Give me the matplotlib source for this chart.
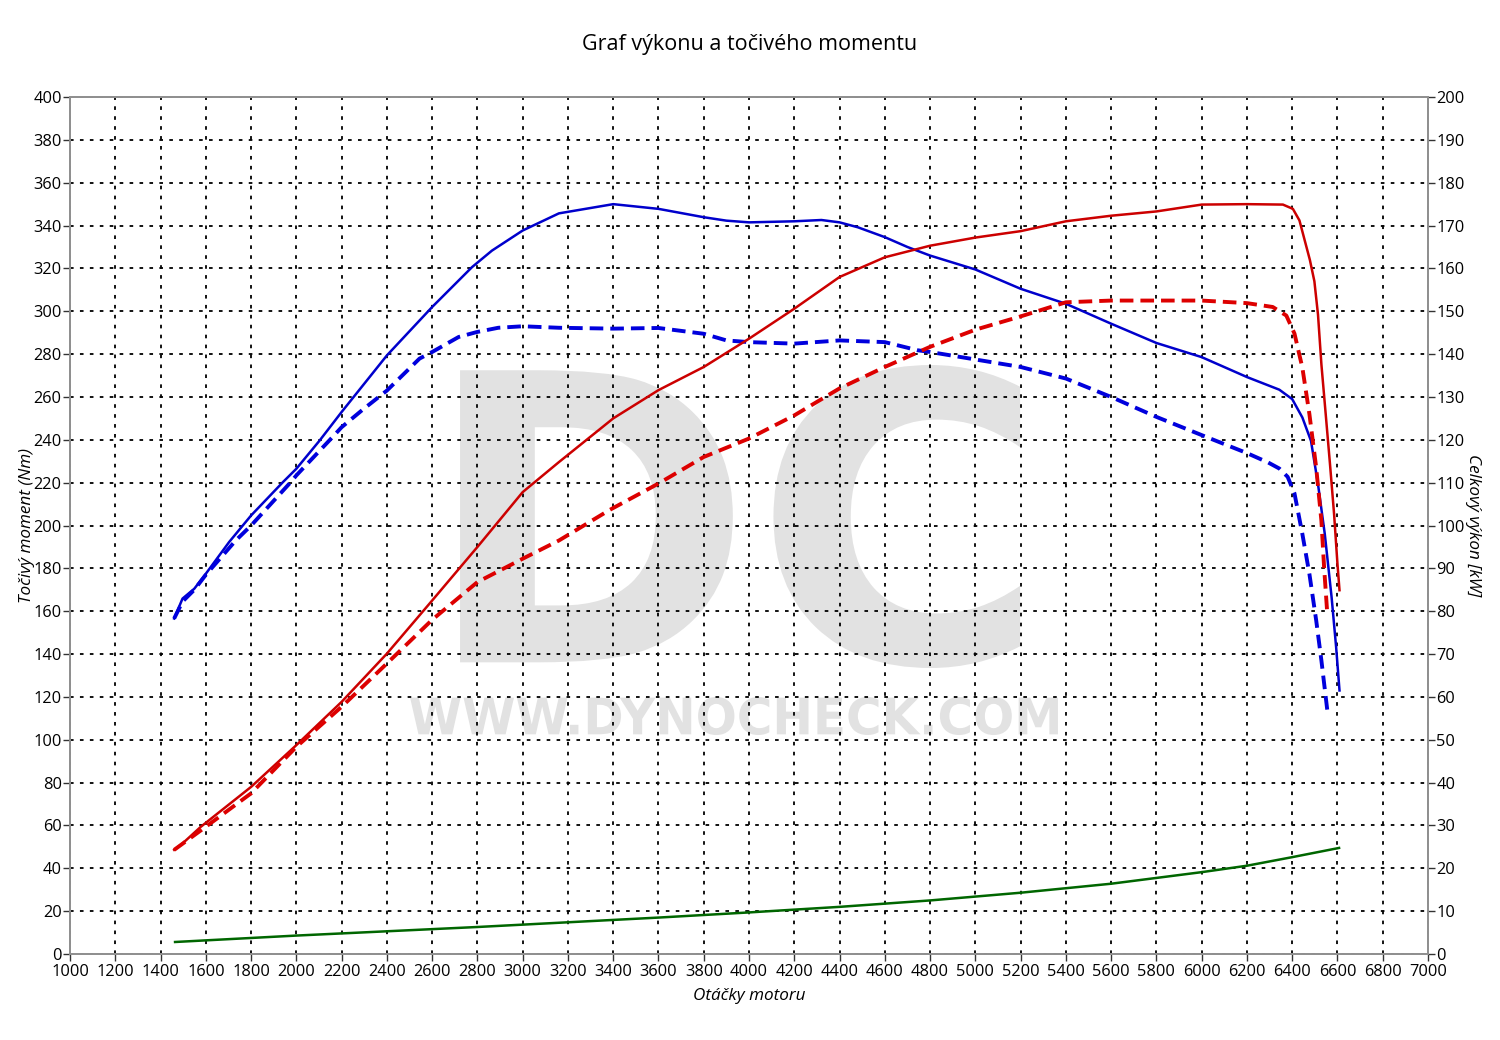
import matplotlib
matplotlib.use("Agg")
import matplotlib.pyplot as plt
from matplotlib.textpath import TextPath
from matplotlib.font_manager import FontProperties
from matplotlib.patches import PathPatch
from matplotlib.transforms import Affine2D, BboxTransformTo, Bbox

plt.rcParams['font.family'] = ['Open Sans', 'DejaVu Sans']

# ---- data ----
rpm_t_tuned = [1460, 1497, 1549, 1600, 1703, 1800, 1941, 2000, 2103, 2200, 2400, 2600, 2776, 2864,
               3000, 3160, 3400, 3600, 3800, 3900, 4000, 4200, 4320, 4400, 4481, 4600, 4700, 4800,
               5000, 5200, 5400, 5600, 5800, 6000, 6200, 6343, 6400, 6445, 6483, 6514, 6544, 6574,
               6594, 6609]
torque_tuned = [156.6, 165.9, 170.5, 177.5, 192.3, 204.7, 220.3, 226.5, 239.7, 253, 279.4, 302, 320.6, 328.3,
                337.7, 345.7, 350, 347.8, 343.9, 342.3, 341.5, 342, 342.6, 341.5, 339.2, 334.6, 330, 326,
                319.5, 310.5, 303.5, 294.2, 285.2, 278.6, 269.3, 263.4, 259, 250.4, 239.5, 219.3, 196, 166.6,
                143.3, 123]

rpm_t_stock = [1460, 1497, 1549, 1600, 1732, 1800, 1973, 2000, 2159, 2200, 2290, 2400, 2544, 2600,
               2717, 2797, 2892, 3000, 3160, 3400, 3600, 3800, 3900, 4000, 4200, 4400, 4600, 4745,
               4800, 5000, 5200, 5400, 5600, 5800, 6000, 6200, 6294, 6343, 6380, 6410, 6445, 6476,
               6506, 6529, 6555]
torque_stock = [156.6, 164.5, 170, 177, 193, 200, 220, 223.4, 241.2, 245.9, 253.8, 263, 277.9, 281,
                288, 290.3, 292.3, 293, 292.3, 291.9, 292.2, 289.5, 286.4, 285.6, 284.9, 286.4, 285.6, 281.8,
                281, 277.5, 274, 268.6, 260, 250.7, 242.2, 233.8, 229.4, 226.6, 222.7, 215, 196, 177.4,
                155.7, 137, 113.8]

rpm_p_tuned = [1460, 1497, 1578, 1800, 2000, 2200, 2400, 2600, 2800, 3000, 3160, 3400, 3600, 3800,
               4000, 4200, 4400, 4600, 4800, 5000, 5200, 5400, 5600, 5800, 6000, 6200, 6359, 6403,
               6432, 6478, 6498, 6514, 6529, 6548, 6567, 6585, 6600, 6609]
power_tuned = [24.3, 25.8, 29.7, 39, 48.75, 58.85, 70.1, 82.5, 95, 107.8, 114.8, 125, 131.6, 137,
               143.6, 150.6, 158, 162.6, 165.3, 167.2, 168.7, 171, 172.3, 173.3, 174.9, 175, 174.9, 173.9,
               171.2, 162, 157, 149.2, 137.6, 126, 114.3, 102.7, 91, 84.9]

rpm_p_stock = [1460, 1600, 1800, 2000, 2200, 2400, 2600, 2800, 3000, 3160, 3383, 3600, 3800, 4000,
               4200, 4400, 4600, 4800, 5000, 5200, 5400, 5600, 5800, 6000, 6200, 6314, 6374, 6410,
               6445, 6476, 6506, 6529, 6541, 6555]
power_stock = [24.3, 29.7, 37.5, 48.35, 57.7, 67.8, 78, 86.8, 92.25, 96.5, 103.6, 109.8, 116, 120.3,
               125.7, 132, 137, 141.7, 145.7, 148.8, 152.1, 152.5, 152.5, 152.5, 151.9, 151, 149, 144.8,
               136.8, 126, 113.5, 101.1, 90.2, 79.4]

rpm_loss = [1464, 2000, 2400, 2800, 3200, 3600, 4000, 4400, 4800, 5200, 5600, 6000, 6200, 6400, 6607]
power_loss = [2.8, 4.3, 5.3, 6.3, 7.4, 8.5, 9.7, 11.0, 12.5, 14.3, 16.4, 19.1, 20.6, 22.6, 24.75]

x_ticks = list(range(1000, 7001, 200))
y_left_ticks = list(range(0, 401, 20))
y_right_ticks = list(range(0, 201, 10))

# ---- figure ----
fig = plt.figure(figsize=(15, 10.4), dpi=100)
ax = fig.add_axes([0.0467, 0.0827, 0.9053, 0.824])
ax2 = ax.twinx()


def fitted_text(a, s, x0, y0, x1, y1, color):
    prop = FontProperties(family='DejaVu Sans', weight='bold')
    tp = TextPath((0, 0), s, prop=prop, size=100)
    ext = tp.get_extents()
    tr = (Affine2D().translate(-ext.x0, -ext.y0).scale(1.0 / ext.width, 1.0 / ext.height)
          + BboxTransformTo(Bbox([[x0, y0], [x1, y1]])) + a.transAxes)
    p = PathPatch(tp, transform=tr, facecolor=color, edgecolor='none', zorder=0.1)
    a.add_artist(p)


# watermark (behind grid)
fitted_text(ax, 'DC', 0.2872, 0.3337, 0.6996, 0.6873, '#e2e2e2')
fitted_text(ax, 'WWW.DYNOCHECK.COM', 0.2504, 0.2555, 0.7275, 0.2999, '#e2e2e2')

ax.set_xlim(1000, 7000)
ax.set_ylim(0, 400)
ax2.set_ylim(0, 200)
ax.set_xticks(x_ticks)
ax.set_yticks(y_left_ticks)
ax2.set_yticks(y_right_ticks)

tick_fs = 11.8
ax.tick_params(axis='x', labelsize=tick_fs, length=5, width=1, color='#333333', pad=2)
ax.tick_params(axis='y', labelsize=tick_fs, length=5, width=1, color='#333333', pad=1)
ax2.tick_params(axis='y', labelsize=tick_fs, length=5, width=1, color='#333333', pad=1)

for a in (ax, ax2):
    for s in a.spines.values():
        s.set_color('#909090')
        s.set_linewidth(1.3)

ax.set_axisbelow(True)
ax.grid(True, color='black', linestyle=(0, (2, 3.5)), linewidth=1.3)

# curves
ax.plot(rpm_t_tuned, torque_tuned, color='#0000cc', lw=1.8, zorder=3)
ax.plot(rpm_t_stock, torque_stock, color='#0000dd', lw=2.8, linestyle=(0, (3.5, 1.8)), zorder=3)
ax2.plot(rpm_p_tuned, power_tuned, color='#cc0000', lw=1.8, zorder=3)
ax2.plot(rpm_p_stock, power_stock, color='#dd0000', lw=2.8, linestyle=(0, (3.5, 1.8)), zorder=3)
ax2.plot(rpm_loss, power_loss, color='#006600', lw=1.8, zorder=3)

fig.text(0.5, 0.957, 'Graf výkonu a točivého momentu', ha='center', va='center', fontsize=15.5)
ax.set_xlabel('Otáčky motoru', fontsize=12.3, style='italic', labelpad=6)
ax.set_ylabel('Točivý moment (Nm)', fontsize=12.3, style='italic', labelpad=-1)
ax2.set_ylabel('Celkový výkon [kW]', fontsize=12.3, style='italic', rotation=-90, labelpad=12)

fig.savefig('out.png', dpi=100, facecolor='white')
